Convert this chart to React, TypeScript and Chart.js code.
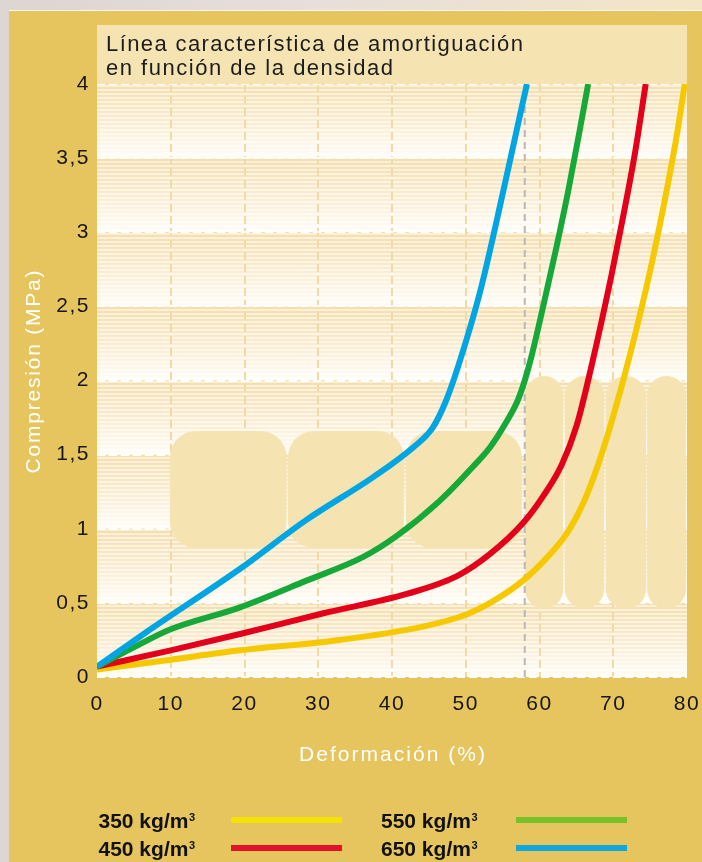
import React, { useEffect, useRef } from 'react';
import { Chart, registerables } from 'chart.js';

Chart.register(...registerables);

// ---- data ----
const seriesLabels = ['350 kg/m', '450 kg/m', '550 kg/m', '650 kg/m'];

const def350 = [0, 10, 19.4, 32.9, 44.2, 50, 54, 58, 62, 64, 66, 68, 70, 72.2, 75, 77, 78.5, 79.7];
const comp350 = [0.05, 0.117, 0.18, 0.25, 0.34, 0.42, 0.52, 0.66, 0.86, 0.99, 1.18, 1.44, 1.76, 2.16, 2.74, 3.22, 3.62, 4.0];

const def450 = [0, 10, 19.4, 30.7, 42, 48.8, 53.3, 57.8, 60.5, 63, 65, 67.2, 69.8, 71.4, 73.0, 74.4];
const comp450 = [0.07, 0.18, 0.29, 0.43, 0.56, 0.68, 0.83, 1.04, 1.22, 1.43, 1.69, 2.13, 2.72, 3.12, 3.55, 4.0];

const def550 = [0, 5, 9.9, 19.4, 28.4, 36.1, 40.6, 46.5, 51, 53.3, 55.5, 57, 58, 58.9, 60.5, 62.3, 63.9, 65.5, 66.6];
const comp550 = [0.07, 0.2, 0.32, 0.47, 0.65, 0.81, 0.95, 1.19, 1.42, 1.55, 1.72, 1.86, 2.0, 2.16, 2.5, 2.9, 3.28, 3.7, 4.0];

const def650 = [0, 7.2, 19.4, 28.4, 37.5, 42.9, 45.5, 47.3, 49, 51.9, 55.1, 57.4, 58.3];
const comp650 = [0.07, 0.32, 0.73, 1.06, 1.35, 1.55, 1.68, 1.86, 2.1, 2.59, 3.28, 3.8, 4.0];

const refLineX = 58;

const xMin = 0, xMax = 80, xStep = 10;
const yMin = 0, yMax = 4, yStep = 0.5;

const titleLines = ['Línea característica de amortiguación', 'en función de la densidad'];
const xTitle = 'Deformación (%)';
const yTitle = 'Compresión (MPa)';

// decorative rounded panels behind the curves (data units: x0, x1, y0, y1)
const panelsH = [
  [9.9, 25.7, 0.87, 1.66],
  [25.9, 41.6, 0.87, 1.66],
  [41.9, 57.6, 0.87, 1.66],
];
const panelsV = [
  [58.05, 63.2, 0.46, 2.03],
  [63.45, 68.75, 0.46, 2.03],
  [69.0, 74.45, 0.46, 2.03],
  [74.6, 79.85, 0.46, 2.03],
];

const lineColors = ['#F6C800', '#E2001A', '#16A838', '#00A5E2'];
const legendColors = ['#F5E200', '#E2122B', '#78C12A', '#10A6DE'];

const GOLD = '#E6C55E';
const PANEL = '#F5E3B2';
const FONT = "'Liberation Sans', Arial, Helvetica, sans-serif";

function drawSpaced(ctx: CanvasRenderingContext2D, text: string, x: number, y: number, targetW: number, align: 'left' | 'center') {
  (ctx as any).letterSpacing = '0px';
  const w = ctx.measureText(text).width;
  const n = Array.from(text).length;
  const s = (targetW - w) / Math.max(1, n - 1);
  (ctx as any).letterSpacing = s.toFixed(2) + 'px';
  ctx.textAlign = 'left';
  const sx = align === 'center' ? x - targetW / 2 : x;
  ctx.fillText(text, sx, y);
  (ctx as any).letterSpacing = '0px';
}

const decor = {
  id: 'decor',
  beforeUpdate(chart: any) {
    chart.ctx.letterSpacing = '1.5px';
  },
  beforeDraw(chart: any) {
    const { ctx, chartArea: a, scales } = chart;
    const y = scales.y;
    ctx.save();
    for (let v = yMin; v < yMax - 1e-9; v += yStep) {
      const top = y.getPixelForValue(v + yStep);
      const bot = y.getPixelForValue(v);
      const g = ctx.createLinearGradient(0, top, 0, bot);
      g.addColorStop(0, '#F5DEAC');
      g.addColorStop(0.55, '#FBEDD2');
      g.addColorStop(1, '#FFFDF8');
      ctx.fillStyle = g;
      ctx.fillRect(a.left, top, a.right - a.left, bot - top);
    }
    ctx.fillStyle = 'rgba(255,255,255,0.55)';
    for (let yy = a.top + 1; yy < a.bottom; yy += 4) {
      ctx.fillRect(a.left, yy, a.right - a.left, 2);
    }
    ctx.restore();
  },
  beforeDatasetsDraw(chart: any) {
    const { ctx, scales } = chart;
    const x = scales.x, y = scales.y;
    ctx.save();
    ctx.fillStyle = PANEL;
    const draw = (p: number[], r: number) => {
      const l = x.getPixelForValue(p[0]);
      const rr = x.getPixelForValue(p[1]);
      const t = y.getPixelForValue(p[3]);
      const b = y.getPixelForValue(p[2]);
      ctx.beginPath();
      ctx.roundRect(l, t, rr - l, b - t, Math.min(r, (rr - l) / 2));
      ctx.fill();
    };
    panelsH.forEach((p) => draw(p, 26));
    panelsV.forEach((p) => draw(p, 20));
    ctx.restore();
  },
  afterDraw(chart: any) {
    const { ctx, chartArea: a } = chart;
    ctx.save();
    // title box
    ctx.fillStyle = PANEL;
    ctx.fillRect(a.left, 14, a.right - a.left, a.top - 14);
    ctx.fillStyle = '#1c1c1c';
    ctx.font = `22px ${FONT}`;
    ctx.textBaseline = 'alphabetic';
    drawSpaced(ctx, titleLines[0], a.left + 9, 40, 417, 'left');
    drawSpaced(ctx, titleLines[1], a.left + 9, 64, 287, 'left');

    // axis titles
    ctx.fillStyle = '#FFFFFF';
    ctx.font = `21px ${FONT}`;
    ctx.textBaseline = 'middle';
    drawSpaced(ctx, xTitle, (a.left + a.right) / 2, 744, 186, 'center');
    ctx.save();
    ctx.translate(25, 361);
    ctx.rotate(-Math.PI / 2);
    drawSpaced(ctx, yTitle, 0, 0, 203, 'center');
    ctx.restore();

    // legend
    const items = [
      { i: 0, tx: 89.5, sx: 222, y: 817 },
      { i: 1, tx: 89.5, sx: 222, y: 845 },
      { i: 2, tx: 372, sx: 507, y: 817 },
      { i: 3, tx: 372, sx: 507, y: 845 },
    ];
    items.forEach((it) => {
      const label = chart.data.datasets.find((d: any) => d.legendIndex === it.i).label;
      ctx.fillStyle = '#111111';
      ctx.font = `bold 21px ${FONT}`;
      ctx.textBaseline = 'alphabetic';
      ctx.textAlign = 'left';
      (ctx as any).letterSpacing = '0px';
      ctx.fillText(label, it.tx, it.y);
      const w = ctx.measureText(label).width;
      ctx.font = `bold 11px ${FONT}`;
      ctx.fillText('3', it.tx + w + 0.5, it.y - 7);
      ctx.fillStyle = legendColors[it.i];
      ctx.fillRect(it.sx, it.y - 11, 111, 6);
    });
    ctx.restore();
  },
};

export default function App() {
  const ref = useRef<HTMLCanvasElement>(null);

  useEffect(() => {
    const canvas = ref.current!;
    const mk = (xs: number[], ys: number[]) => xs.map((x, i) => ({ x, y: ys[i] }));
    const series = [
      { xs: def350, ys: comp350 },
      { xs: def450, ys: comp450 },
      { xs: def550, ys: comp550 },
      { xs: def650, ys: comp650 },
    ];
    const datasets: any[] = series.map((s, i) => ({
      label: seriesLabels[i],
      legendIndex: i,
      data: mk(s.xs, s.ys),
      borderColor: lineColors[i],
      backgroundColor: lineColors[i],
      borderWidth: 6,
      pointRadius: 0,
      cubicInterpolationMode: 'monotone',
      fill: false,
      clip: 0,
      order: 4 - i,
    }));
    datasets.push({
      label: 'ref',
      legendIndex: -1,
      data: [
        { x: refLineX, y: yMin },
        { x: refLineX, y: yMax },
      ],
      borderColor: '#B8B8B8',
      borderWidth: 2,
      borderDash: [7, 5],
      pointRadius: 0,
      tension: 0,
      fill: false,
      clip: 0,
      order: 10,
    });

    const chart = new Chart(canvas, {
      type: 'line',
      data: { datasets },
      options: {
        responsive: false,
        animation: false,
        devicePixelRatio: 1,
        layout: { padding: { top: 73, right: 15, left: 0, bottom: 0 } },
        plugins: {
          legend: { display: false },
          tooltip: { enabled: false },
          title: { display: false },
        },
        scales: {
          x: {
            type: 'linear',
            min: xMin,
            max: xMax,
            afterFit: (s: any) => {
              s.height = 185;
              s.paddingLeft = 0;
              s.paddingRight = 0;
            },
            ticks: {
              stepSize: xStep,
              padding: 15,
              color: '#161616',
              font: { family: FONT, size: 21 },
              maxRotation: 0,
            },
            grid: {
              drawTicks: false,
              lineWidth: 2,
              color: (c: any) =>
                c.tick && (c.tick.value === xMin || c.tick.value === xMax) ? 'rgba(0,0,0,0)' : '#F1DAA6',
            },
            border: { display: false, dash: [8, 4] },
          },
          y: {
            type: 'linear',
            min: yMin,
            max: yMax,
            afterFit: (s: any) => {
              s.width = 88;
              s.paddingTop = 0;
              s.paddingBottom = 0;
            },
            ticks: {
              stepSize: yStep,
              padding: 7,
              color: '#161616',
              font: { family: FONT, size: 21 },
              callback: (v: any) => String(v).replace('.', ','),
            },
            grid: {
              drawTicks: false,
              lineWidth: 2,
              color: 'rgba(255,255,255,0.95)',
            },
            border: { display: false, dash: [8, 4] },
          },
        },
      } as any,
      plugins: [decor as any],
    });
    return () => chart.destroy();
  }, []);

  return (
    <div
      style={{
        position: 'fixed',
        left: 0,
        top: 0,
        width: 702,
        height: 862,
        background: 'linear-gradient(90deg, #dcd5d1 0%, #e6dfdb 45%, #f4e5c6 100%)',
        overflow: 'hidden',
      }}
    >
      <div
        style={{
          position: 'absolute',
          left: 9,
          top: 10,
          width: 693,
          height: 852,
          background: GOLD,
          borderTop: '1px solid #FBF7F0',
          boxSizing: 'border-box',
        }}
      />
      <canvas
        ref={ref}
        width={693}
        height={851}
        style={{ position: 'absolute', left: 9, top: 11, width: 693, height: 851 }}
      />
    </div>
  );
}
